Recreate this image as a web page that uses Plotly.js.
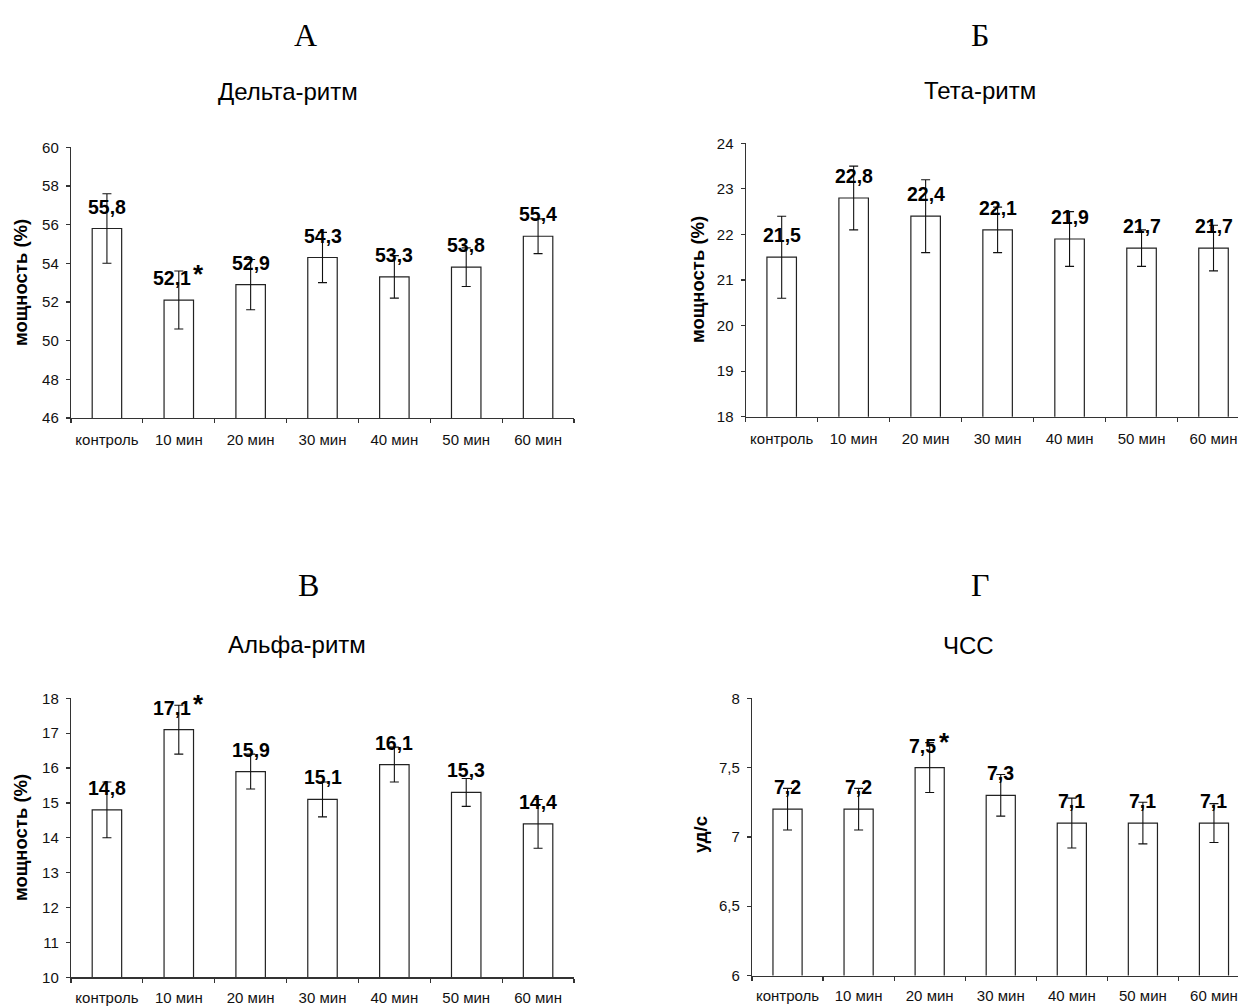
<!DOCTYPE html>
<html>
<head>
<meta charset="utf-8">
<script src="https://cdn.plot.ly/plotly-3.0.1.min.js"></script>
<style>
html,body{margin:0;padding:0;overflow:hidden;background:#fff;}
#chart{width:1262px;height:1008px;}
</style>
</head>
<body>
<div id="chart"></div>
<script>
// ---- data ----
const categories = ['контроль','10 мин','20 мин','30 мин','40 мин','50 мин','60 мин'];

const deltaValues = [55.8, 52.1, 52.9, 54.3, 53.3, 53.8, 55.4];
const deltaErrors = [1.8, 1.5, 1.3, 1.3, 1.1, 1.0, 0.9];
const deltaSig    = [0, 1, 0, 0, 0, 0, 0];

const thetaValues = [21.5, 22.8, 22.4, 22.1, 21.9, 21.7, 21.7];
const thetaErrors = [0.9, 0.7, 0.8, 0.5, 0.6, 0.4, 0.5];
const thetaSig    = [0, 0, 0, 0, 0, 0, 0];

const alphaValues = [14.8, 17.1, 15.9, 15.1, 16.1, 15.3, 14.4];
const alphaErrors = [0.8, 0.7, 0.5, 0.5, 0.5, 0.4, 0.7];
const alphaSig    = [0, 1, 0, 0, 0, 0, 0];

const hrValues = [7.2, 7.2, 7.5, 7.3, 7.1, 7.1, 7.1];
const hrErrors = [0.15, 0.15, 0.18, 0.15, 0.18, 0.15, 0.14];
const hrSig    = [0, 0, 1, 0, 0, 0, 0];

const panelLetters = ['А', 'Б', 'В', 'Г'];
const panelTitles  = ['Дельта-ритм', 'Тета-ритм', 'Альфа-ритм', 'ЧСС'];
const yTitles      = ['мощность (%)', 'мощность (%)', 'мощность (%)', 'уд/с'];
const yRanges      = [[46, 60], [18, 24], [10, 18], [6, 8]];
const yDticks      = [2, 1, 1, 0.5];

const seriesValues = [deltaValues, thetaValues, alphaValues, hrValues];
const seriesErrors = [deltaErrors, thetaErrors, alphaErrors, hrErrors];
const seriesSig    = [deltaSig, thetaSig, alphaSig, hrSig];

// ---- layout geometry (pixels) ----
const W = 1262, H = 1008;
const geom = [
  {x0: 71,    x1: 574,    y0: 147.3, y1: 418,   letter: [305.5, 35], title: [287.5, 91],  ytitle: [20, 283], xstand: 8},
  {x0: 745.7, x1: 1249.5, y0: 143.3, y1: 416.7, letter: [980, 35],   title: [980, 90],    ytitle: [697, 280], xstand: 8},
  {x0: 71,    x1: 574,    y0: 698.3, y1: 977.3, letter: [308, 585],  title: [297, 644],   ytitle: [20, 838], xstand: 6},
  {x0: 752,   x1: 1249.5, y0: 698.3, y1: 975.5, letter: [980, 585],  title: [968, 645],   ytitle: [700, 835], xstand: 6}
];
const px = v => v / W;
const py = v => 1 - v / H;

const SANS = 'Liberation Sans, Arial, sans-serif';
const SERIF = 'Liberation Serif, Times New Roman, serif';
const fmt = v => String(v).replace('.', ',');

const traces = [];
const layout = {
  width: W, height: H,
  margin: {l: 0, r: 0, t: 0, b: 0},
  paper_bgcolor: '#fff', plot_bgcolor: '#fff',
  showlegend: false,
  separators: ', ',
  bargap: 0.59,
  annotations: []
};

const labelSize = 19.5;
for (let i = 0; i < 4; i++) {
  const g = geom[i];
  const sfx = i === 0 ? '' : String(i + 1);
  const xa = 'x' + sfx, ya = 'y' + sfx;
  traces.push({
    type: 'bar', x: categories, y: seriesValues[i],
    xaxis: xa, yaxis: ya,
    marker: {color: '#ffffff', line: {color: '#222', width: 1.2}},
    error_y: {type: 'data', array: seriesErrors[i], visible: true, color: '#111', thickness: 1.1, width: 4.5},
    hoverinfo: 'none'
  });
  layout['xaxis' + sfx] = {
    domain: [px(g.x0), px(g.x1)], anchor: ya,
    type: 'category', range: [-0.5, 6.5],
    showline: true, linecolor: '#333', linewidth: 1.2,
    ticks: 'outside', tickson: 'boundaries', ticklen: 4, tickcolor: '#333', tickwidth: 1.2,
    ticklabelstandoff: g.xstand, tickangle: 0,
    showgrid: false, zeroline: false,
    tickfont: {family: SANS, size: 15, color: '#111'}
  };
  layout['yaxis' + sfx] = {
    domain: [py(g.y1), py(g.y0)], anchor: xa,
    range: yRanges[i], dtick: yDticks[i], tick0: yRanges[i][0],
    showline: true, linecolor: '#333', linewidth: 1.2,
    ticks: 'outside', ticklen: 4, tickcolor: '#333', tickwidth: 1.2,
    ticklabelstandoff: 4,
    showgrid: false, zeroline: false,
    tickfont: {family: SANS, size: 15, color: '#111'}
  };
  // value labels
  seriesValues[i].forEach((v, j) => {
    const txt = fmt(v);
    const star = seriesSig[i][j] === 1;
    layout.annotations.push({
      xref: xa, yref: ya, x: categories[j], y: v,
      text: '<b>' + txt + '</b>', showarrow: false,
      xanchor: 'center', yanchor: 'middle',
      xshift: star ? -7 : 0, yshift: 22,
      font: {family: SANS, size: labelSize, color: '#000'}
    });
    if (star) {
      const nDigits = txt.replace(',', '').length;
      const w = (nDigits * 0.556 + 0.278) * labelSize;
      layout.annotations.push({
        xref: xa, yref: ya, x: categories[j], y: v,
        text: '<b>*</b>', showarrow: false,
        xanchor: 'center', yanchor: 'middle',
        xshift: -7 + w / 2 + 8, yshift: 26,
        font: {family: SANS, size: 26, color: '#000'}
      });
    }
  });
  // panel letter
  layout.annotations.push({
    xref: 'paper', yref: 'paper', x: px(g.letter[0]), y: py(g.letter[1]),
    text: panelLetters[i], showarrow: false, xanchor: 'center', yanchor: 'middle',
    font: {family: SERIF, size: 32, color: '#000'}
  });
  // panel title
  layout.annotations.push({
    xref: 'paper', yref: 'paper', x: px(g.title[0]), y: py(g.title[1]),
    text: panelTitles[i], showarrow: false, xanchor: 'center', yanchor: 'middle',
    font: {family: SANS, size: 24, color: '#000'}
  });
  // y title
  layout.annotations.push({
    xref: 'paper', yref: 'paper', x: px(g.ytitle[0]), y: py(g.ytitle[1]),
    text: '<b>' + yTitles[i] + '</b>', showarrow: false, textangle: -90,
    xanchor: 'center', yanchor: 'middle',
    font: {family: SANS, size: 18.5, color: '#000'}
  });
}

Plotly.newPlot('chart', traces, layout, {staticPlot: true, displayModeBar: false});
</script>
</body>
</html>
